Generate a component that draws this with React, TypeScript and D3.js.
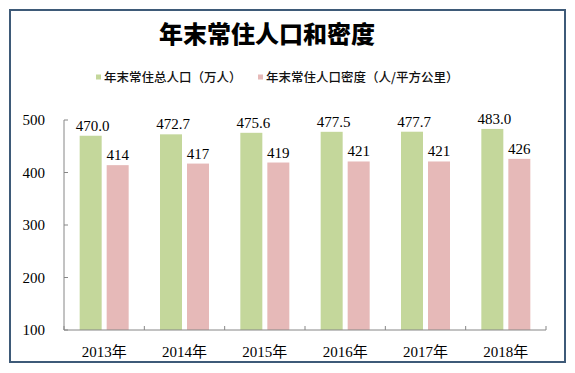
import * as d3 from 'd3';
import { useEffect, useRef } from 'react';

const years = ['2013年', '2014年', '2015年', '2016年', '2017年', '2018年'];
const population = [470.0, 472.7, 475.6, 477.5, 477.7, 483.0];
const density = [414, 417, 419, 421, 421, 426];
const yTicks = [100, 200, 300, 400, 500];
const seriesNames = ['年末常住总人口（万人）', '年末常住人口密度（人/平方公里）'];
const colors = ['#c4d79b', '#e6b9b8'];

const W = 575;
const H = 373;
const serif = '"Liberation Serif", "Times New Roman", "Noto Sans CJK SC", serif';

const App = () => {
  const ref = useRef<SVGSVGElement | null>(null);

  useEffect(() => {
    if (!ref.current) return;
    const svg = d3.select(ref.current);
    svg.selectAll('*').remove();

    const left = 64;
    const right = 546;
    const top = 120;
    const bottom = 330;

    // frame
    svg
      .append('rect')
      .attr('x', 10)
      .attr('y', 10)
      .attr('width', 555)
      .attr('height', 352)
      .attr('fill', '#fff')
      .attr('stroke', '#3e5a78')
      .attr('stroke-width', 2);

    // title
    svg
      .append('text')
      .attr('x', 267)
      .attr('y', 43)
      .attr('text-anchor', 'middle')
      .attr('font-family', '"Noto Sans CJK SC", sans-serif')
      .attr('font-weight', 900)
      .attr('font-size', 24)
      .attr('fill', '#000')
      .text('年末常住人口和密度');

    // legend
    const legendX = [96, 258];
    seriesNames.forEach((name, i) => {
      const g = svg.append('g').attr('transform', `translate(${legendX[i]},77)`);
      g.append('rect')
        .attr('x', 0)
        .attr('y', -2.5)
        .attr('width', 5)
        .attr('height', 5)
        .attr('fill', colors[i]);
      g.append('text')
        .attr('x', 8)
        .attr('y', 0)
        .attr('dy', '0.36em')
        .attr('font-family', '"Noto Sans CJK SC", sans-serif')
        .attr('font-weight', 500)
        .attr('font-size', 12.5)
        .attr('fill', '#111')
        .text(name);
    });

    const x = d3.scaleBand<string>().domain(years).range([left, right]);
    const y = d3.scaleLinear().domain([100, 500]).range([bottom, top]);

    const barW = 22;
    const gap = 5;
    const offset = (x.bandwidth() - (2 * barW + gap)) / 2;

    // y axis
    svg
      .append('line')
      .attr('x1', left)
      .attr('x2', left)
      .attr('y1', top)
      .attr('y2', bottom)
      .attr('stroke', '#868686');
    svg
      .selectAll('.ytick')
      .data(yTicks)
      .enter()
      .append('line')
      .attr('x1', left)
      .attr('x2', left + 4)
      .attr('y1', (d) => y(d))
      .attr('y2', (d) => y(d))
      .attr('stroke', '#868686');
    svg
      .selectAll('.ylab')
      .data(yTicks)
      .enter()
      .append('text')
      .attr('x', 45)
      .attr('y', (d) => y(d))
      .attr('dy', '0.35em')
      .attr('text-anchor', 'end')
      .attr('font-family', serif)
      .attr('font-size', 15)
      .text((d) => d);

    const series = [population, density];
    series.forEach((vals, s) => {
      svg
        .selectAll(`.bar${s}`)
        .data(vals)
        .enter()
        .append('rect')
        .attr('x', (_d, i) => (x(years[i]) as number) + offset + s * (barW + gap))
        .attr('y', (d) => y(d))
        .attr('width', barW)
        .attr('height', (d) => bottom - y(d))
        .attr('fill', colors[s]);

      svg
        .selectAll(`.lab${s}`)
        .data(vals)
        .enter()
        .append('text')
        .attr('x', (_d, i) => (x(years[i]) as number) + offset + s * (barW + gap) + barW / 2 + (s === 0 ? 2 : 0))
        .attr('y', (d) => y(d) - 5)
        .attr('text-anchor', 'middle')
        .attr('font-family', serif)
        .attr('font-size', 15)
        .text((d) => (s === 0 ? d.toFixed(1) : String(d)));
    });

    // x axis
    svg
      .append('line')
      .attr('x1', left)
      .attr('x2', right)
      .attr('y1', bottom)
      .attr('y2', bottom)
      .attr('stroke', '#868686');
    const bounds = years.map((yr) => x(yr) as number).concat([right]);
    svg
      .selectAll('.xtick')
      .data(bounds)
      .enter()
      .append('line')
      .attr('x1', (d) => d)
      .attr('x2', (d) => d)
      .attr('y1', bottom)
      .attr('y2', bottom - 4)
      .attr('stroke', '#868686');
    svg
      .selectAll('.xlab')
      .data(years)
      .enter()
      .append('text')
      .attr('x', (d) => (x(d) as number) + x.bandwidth() / 2)
      .attr('y', 357)
      .attr('text-anchor', 'middle')
      .attr('font-family', serif)
      .attr('font-size', 15)
      .text((d) => d);
  }, []);

  return (
    <svg
      ref={ref}
      width={W}
      height={H}
      style={{ position: 'absolute', left: 0, top: 0, background: '#fff' }}
    />
  );
};

export default App;
